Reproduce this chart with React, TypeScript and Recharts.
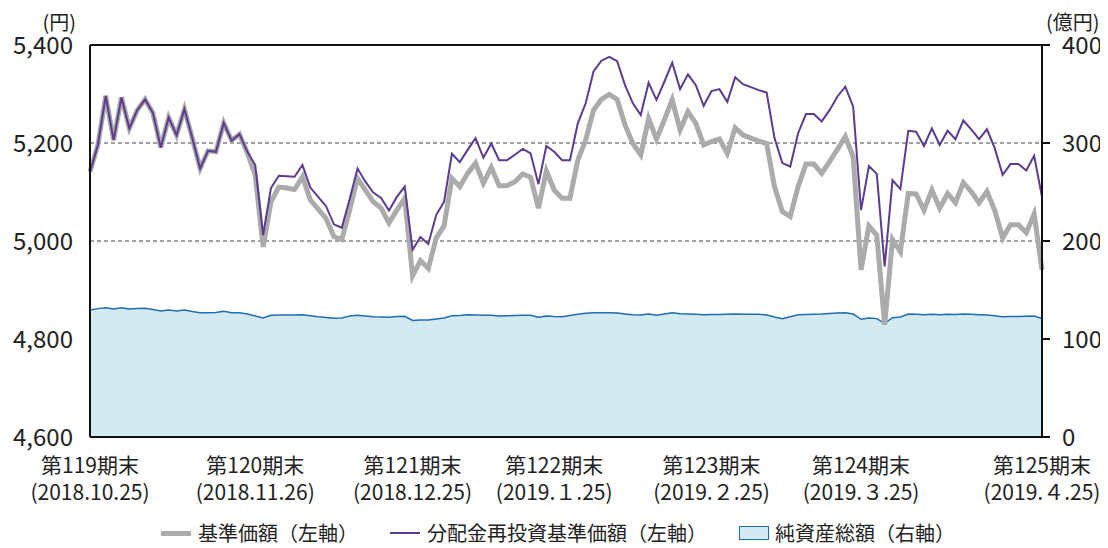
import {
  ComposedChart, Line, Area, XAxis, YAxis, CartesianGrid, ReferenceLine, Legend
} from "recharts";

const FONT = '"Noto Sans CJK JP", "Noto Sans", sans-serif';

// 営業日（2018/10/25〜2019/4/25）
const dates = [
  "2018/10/25", "2018/10/26", "2018/10/29", "2018/10/30", "2018/10/31",
  "2018/11/01", "2018/11/02", "2018/11/05", "2018/11/06", "2018/11/07", "2018/11/08", "2018/11/09",
  "2018/11/12", "2018/11/13", "2018/11/14", "2018/11/15", "2018/11/16", "2018/11/19", "2018/11/20",
  "2018/11/21", "2018/11/22", "2018/11/26", "2018/11/27", "2018/11/28", "2018/11/29", "2018/11/30",
  "2018/12/03", "2018/12/04", "2018/12/05", "2018/12/06", "2018/12/07", "2018/12/10", "2018/12/11",
  "2018/12/12", "2018/12/13", "2018/12/14", "2018/12/17", "2018/12/18", "2018/12/19", "2018/12/20",
  "2018/12/21", "2018/12/25", "2018/12/26", "2018/12/27", "2018/12/28",
  "2019/01/04", "2019/01/07", "2019/01/08", "2019/01/09", "2019/01/10", "2019/01/11", "2019/01/15",
  "2019/01/16", "2019/01/17", "2019/01/18", "2019/01/21", "2019/01/22", "2019/01/23", "2019/01/24",
  "2019/01/25", "2019/01/28", "2019/01/29", "2019/01/30", "2019/01/31",
  "2019/02/01", "2019/02/04", "2019/02/05", "2019/02/06", "2019/02/07", "2019/02/08", "2019/02/12",
  "2019/02/13", "2019/02/14", "2019/02/15", "2019/02/18", "2019/02/19", "2019/02/20", "2019/02/21",
  "2019/02/22", "2019/02/25", "2019/02/26", "2019/02/27", "2019/02/28",
  "2019/03/01", "2019/03/04", "2019/03/05", "2019/03/06", "2019/03/07", "2019/03/08", "2019/03/11",
  "2019/03/12", "2019/03/13", "2019/03/14", "2019/03/15", "2019/03/18", "2019/03/19", "2019/03/20",
  "2019/03/22", "2019/03/25", "2019/03/26", "2019/03/27", "2019/03/28", "2019/03/29",
  "2019/04/01", "2019/04/02", "2019/04/03", "2019/04/04", "2019/04/05", "2019/04/08", "2019/04/09",
  "2019/04/10", "2019/04/11", "2019/04/12", "2019/04/15", "2019/04/16", "2019/04/17", "2019/04/18",
  "2019/04/19", "2019/04/22", "2019/04/23", "2019/04/24", "2019/04/25",
];

// 基準価額（円）
const basePrice = [
  5141, 5196, 5296, 5206, 5293, 5230, 5267, 5289, 5261, 5191,
  5252, 5216, 5269, 5210, 5148, 5184, 5182, 5241, 5205, 5218,
  5180, 5135, 4988, 5080, 5110, 5108, 5105, 5131, 5084, 5065,
  5046, 5009, 5003, 5063, 5128, 5104, 5080, 5067, 5037, 5063,
  5087, 4929, 4960, 4944, 5006, 5031, 5128, 5111, 5138, 5159,
  5118, 5150, 5113, 5113, 5121, 5137, 5130, 5067, 5143, 5104,
  5087, 5087, 5165, 5206, 5267, 5289, 5299, 5289, 5237, 5199,
  5176, 5250, 5208, 5247, 5288, 5227, 5264, 5240, 5196, 5203,
  5208, 5179, 5231, 5216, 5210, 5204, 5199, 5111, 5060, 5050,
  5111, 5157, 5157, 5138, 5162, 5187, 5213, 5172, 4941, 5031,
  5012, 4829, 5003, 4978, 5097, 5096, 5063, 5104, 5067, 5097,
  5078, 5119, 5101, 5078, 5101, 5062, 5006, 5033, 5033, 5017,
  5055, 4941,
];

// 分配金再投資基準価額（円）
const reinvested = [
  5141, 5196, 5296, 5206, 5293, 5230, 5267, 5289, 5261, 5191,
  5252, 5216, 5269, 5210, 5148, 5184, 5182, 5241, 5205, 5218,
  5182, 5155, 5012, 5108, 5133, 5132, 5131, 5155, 5109, 5090,
  5071, 5034, 5027, 5085, 5148, 5121, 5099, 5088, 5062, 5090,
  5111, 4982, 5008, 4994, 5053, 5080, 5178, 5161, 5186, 5210,
  5170, 5199, 5165, 5165, 5176, 5188, 5179, 5116, 5194, 5182,
  5165, 5165, 5240, 5281, 5346, 5368, 5376, 5367, 5318, 5281,
  5257, 5323, 5288, 5325, 5364, 5310, 5340, 5318, 5276, 5306,
  5310, 5284, 5334, 5320, 5314, 5308, 5303, 5210, 5159, 5152,
  5220, 5259, 5259, 5244, 5267, 5295, 5315, 5274, 5063, 5153,
  5137, 4948, 5124, 5106, 5225, 5223, 5194, 5230, 5196, 5225,
  5208, 5246, 5228, 5208, 5228, 5189, 5135, 5157, 5157, 5144,
  5174, 5090,
];

// 純資産総額（億円）
const netAssets = [
  129.6, 131, 132, 130.5, 132, 130.5, 131, 131.3, 130, 128.6,
  129.6, 128.6, 129.6, 128, 126.9, 126.9, 127, 128.2, 126.9, 126.9,
  125.5, 123.5, 121.4, 124.2, 124.5, 124.5, 124.5, 124.8, 123.8, 122.8,
  122, 121.3, 121.5, 123.5, 124.2, 123.5, 122.8, 122.5, 122.1, 123,
  123.2, 119, 119.3, 119.3, 120.5, 121.5, 123.8, 124, 124.8, 124.5,
  124.2, 124.2, 123.5, 123.8, 124, 124.2, 124.2, 122.1, 123.5, 123,
  122.8, 124, 125.2, 126.2, 126.9, 126.9, 126.9, 126.5, 125.5, 124.8,
  124.5, 125.5, 124.2, 125.5, 126.9, 125.8, 125.5, 125.2, 124.8, 125,
  125, 125.2, 125.5, 125.2, 125.2, 125.2, 124.5, 122.5, 120.8, 122.8,
  124.8, 125, 125.2, 125.5, 126, 126.5, 126.9, 125.5, 120.1, 121.4,
  120.8, 116, 121.8, 122.5, 125.5, 125.2, 124.8, 125.2, 124.8, 125.2,
  125, 125.5, 125.2, 124.8, 124.5, 123.8, 122.8, 123, 123, 123.2,
  123.5, 121,
];

const periodTicks = ["2018/10/25", "2018/11/26", "2018/12/25", "2019/01/25", "2019/02/25", "2019/03/25", "2019/04/25"];
const periodNames = ["第119期末", "第120期末", "第121期末", "第122期末", "第123期末", "第124期末", "第125期末"];
const periodDates = ["(2018.10.25)", "(2018.11.26)", "(2018.12.25)", "(2019.１.25)", "(2019.２.25)", "(2019.３.25)", "(2019.４.25)"];

const leftTicks = [4600, 4800, 5000, 5200, 5400];
const rightTicks = [0, 100, 200, 300, 400];

const data = dates.map((d, i) => ({
  date: d,
  base: basePrice[i],
  reinv: reinvested[i],
  assets: netAssets[i],
}));

const GRAY = "#ababab";
const PURPLE = "#5c3b91";
const AREA_FILL = "#d4eaf1";
const AREA_LINE = "#1f6db4";

function PeriodTick(props: any) {
  const { x, y, payload } = props;
  const i = periodTicks.indexOf(payload.value);
  return (
    <text x={x} y={y} textAnchor="middle" fontSize={21} fill="#222" fontFamily={FONT}>
      <tspan x={x} dy={36}>{periodNames[i]}</tspan>
      <tspan x={x} dy={27}>{periodDates[i]}</tspan>
    </text>
  );
}

function ChartLegend() {
  const item = { display: "flex", alignItems: "center", margin: "0 16px", whiteSpace: "nowrap" as const };
  return (
    <div style={{ display: "flex", justifyContent: "center", fontFamily: FONT, fontSize: 20, color: "#222", paddingTop: 15, lineHeight: "28px" }}>
      <div style={item}>
        <span style={{ width: 30, height: 5, background: GRAY, marginRight: 7 }} />
        基準価額（左軸）
      </div>
      <div style={item}>
        <span style={{ width: 30, height: 2, background: PURPLE, marginRight: 7 }} />
        分配金再投資基準価額（左軸）
      </div>
      <div style={item}>
        <span style={{ width: 28, height: 12, background: AREA_FILL, border: `1.5px solid ${AREA_LINE}`, marginRight: 6 }} />
        純資産総額（右軸）
      </div>
    </div>
  );
}

export default function App() {
  return (
    <ComposedChart
      width={1100}
      height={540}
      data={data}
      margin={{ top: 37, right: 0, bottom: 0, left: 0 }}
      style={{ fontFamily: FONT, overflow: "visible" }}
    >
      <CartesianGrid vertical={false} stroke="#444" strokeDasharray="4 3" yAxisId="left" />
      <XAxis
        dataKey="date"
        scale="point"
        padding={{ left: 0, right: 0 }}
        ticks={periodTicks}
        interval={0}
        tick={<PeriodTick />}
        tickLine={false}
        tickSize={0}
        tickMargin={0}
        height={67}
        axisLine={{ stroke: "#111", strokeWidth: 2 }}
      />
      <YAxis
        yAxisId="left"
        domain={[4600, 5400]}
        ticks={leftTicks}
        width={82}
        tickLine={false}
        tickSize={0}
        tickMargin={17}
        axisLine={{ stroke: "#111", strokeWidth: 2 }}
        tick={{ fontSize: 24, fill: "#222" }}
        tickFormatter={(v: number) => v.toLocaleString("en-US")}
        label={({ viewBox }: any) => (
          <text x={viewBox.x + viewBox.width - 14} y={viewBox.y - 15} textAnchor="end" fontSize={20} fill="#222">(円)</text>
        )}
      />
      <YAxis
        yAxisId="right"
        orientation="right"
        domain={[0, 400]}
        ticks={rightTicks}
        width={66}
        tickSize={8}
        tickMargin={12}
        tickLine={{ stroke: "#111", strokeWidth: 2 }}
        axisLine={{ stroke: "#111", strokeWidth: 2 }}
        tick={{ fontSize: 24, fill: "#222", textAnchor: "start" }}
        label={({ viewBox }: any) => (
          <text x={viewBox.x + 4} y={viewBox.y - 15} textAnchor="start" fontSize={20} fill="#222">(億円)</text>
        )}
      />
      <ReferenceLine yAxisId="left" y={5400} stroke="#111" strokeWidth={2} />
      <Area
        yAxisId="right"
        dataKey="assets"
        type="linear"
        fill={AREA_FILL}
        fillOpacity={1}
        stroke={AREA_LINE}
        strokeWidth={1.5}
        isAnimationActive={false}
      />
      <Line
        yAxisId="left"
        dataKey="base"
        type="linear"
        stroke={GRAY}
        strokeWidth={5}
        dot={false}
        isAnimationActive={false}
      />
      <Line
        yAxisId="left"
        dataKey="reinv"
        type="linear"
        stroke={PURPLE}
        strokeWidth={2}
        dot={false}
        isAnimationActive={false}
      />
      <Legend verticalAlign="bottom" content={<ChartLegend />} wrapperStyle={{ height: 44 }} />
    </ComposedChart>
  );
}
